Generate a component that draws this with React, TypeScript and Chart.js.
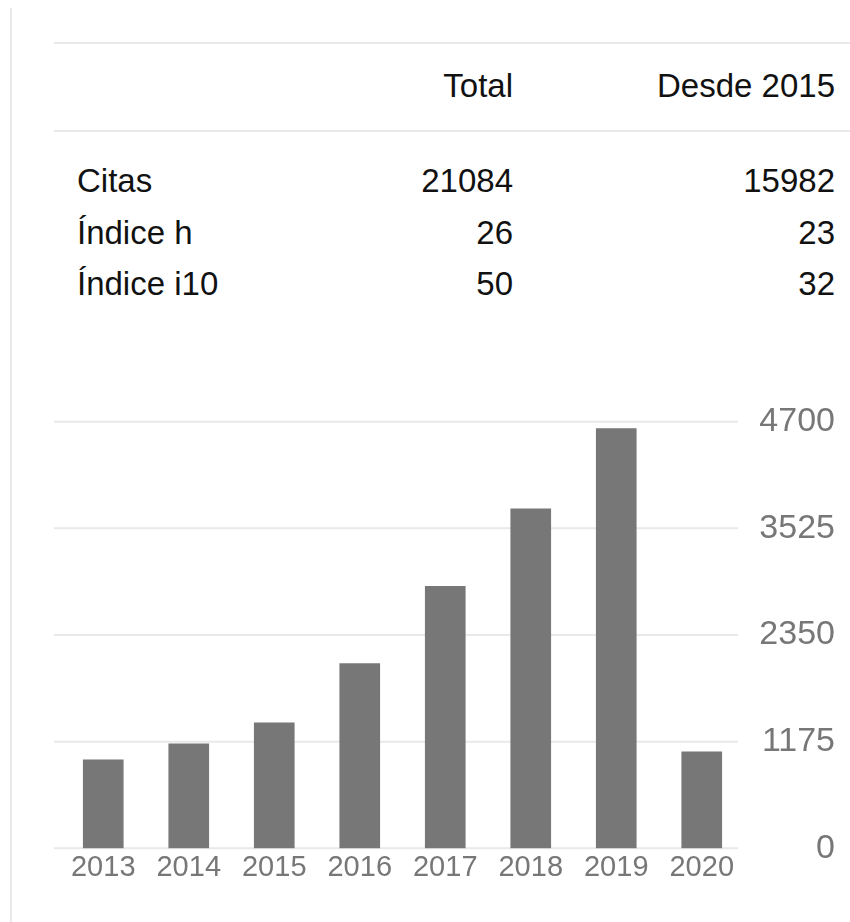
import React, { useEffect, useRef } from "react";
import { Chart, registerables } from "chart.js";

Chart.register(...registerables);

const years = ["2013", "2014", "2015", "2016", "2017", "2018", "2019", "2020"];
const citations = [975, 1152, 1383, 2034, 2887, 3740, 4623, 1063];
const yTicks = [0, 1175, 2350, 3525, 4700];

const headers = ["Total", "Desde 2015"];
const rowLabels = ["Citas", "Índice h", "Índice i10"];
const totalValues = ["21084", "26", "50"];
const sinceValues = ["15982", "23", "32"];

const FONT = "'Liberation Sans', Arial, Helvetica, sans-serif";
const LINE = "#e9e9e9";

const gridPlugin = {
  id: "shiftedGrid",
  beforeDatasetsDraw(chart: any) {
    const { ctx, chartArea, scales } = chart;
    const y = scales.y;
    ctx.save();
    ctx.strokeStyle = LINE;
    ctx.lineWidth = 2;
    y.ticks.forEach((t: any) => {
      const py = y.getPixelForValue(t.value);
      ctx.beginPath();
      ctx.moveTo(chartArea.left - 6.5, py);
      ctx.lineTo(chartArea.right - 6.5, py);
      ctx.stroke();
    });
    ctx.restore();
  },
};

function CitationChart() {
  const ref = useRef<HTMLCanvasElement>(null);
  useEffect(() => {
    if (!ref.current) return;
    const chart = new Chart(ref.current, {
      type: "bar",
      data: {
        labels: years,
        datasets: [
          {
            data: citations,
            backgroundColor: "#777777",
            borderWidth: 0,
            barThickness: 40,
          },
        ],
      },
      options: {
        responsive: false,
        animation: false,
        layout: { padding: { left: 60.5, right: 15, top: 41.7, bottom: 33.7 } },
        plugins: { legend: { display: false }, tooltip: { enabled: false } },
        scales: {
          x: {
            grid: { display: false },
            border: { display: false },
            ticks: {
              color: "#777777",
              font: { family: FONT, size: 29 },
              padding: -6,
              maxRotation: 0,
              autoSkip: false,
            },
            afterFit: (s: any) => {
              s.height = 40;
            },
          },
          y: {
            position: "right",
            min: 0,
            max: 4700,
            grid: { display: false },
            border: { display: false },
            afterBuildTicks: (s: any) => {
              s.ticks = yTicks.map((v) => ({ value: v }));
            },
            ticks: {
              color: "#777777",
              font: { family: FONT, size: 34 },
              padding: 15,
              crossAlign: "far",
              callback: (v: any) => String(v),
            },
            afterFit: (s: any) => {
              s.width = 90.5;
            },
          },
        },
      },
      plugins: [gridPlugin],
    } as any);
    return () => chart.destroy();
  }, []);
  return (
    <canvas
      ref={ref}
      width={850}
      height={542}
      style={{ position: "absolute", left: 0, top: 380, width: 850, height: 542 }}
    />
  );
}

export default function App() {
  const textStyle: React.CSSProperties = {
    position: "absolute",
    fontFamily: FONT,
    fontSize: 33,
    lineHeight: "33px",
    color: "#111111",
    whiteSpace: "nowrap",
  };
  const rowTops = [164, 215.7, 267.4];
  return (
    <div
      style={{
        position: "absolute",
        left: 0,
        top: 0,
        width: 850,
        height: 922,
        background: "#ffffff",
        overflow: "hidden",
      }}
    >
      <div style={{ position: "absolute", left: 10, top: 8, width: 2, height: 914, background: LINE }} />
      <div style={{ position: "absolute", left: 54, top: 42, width: 796, height: 2, background: LINE }} />
      <div style={{ position: "absolute", left: 54, top: 130, width: 796, height: 2, background: LINE }} />
      <div style={{ ...textStyle, top: 68.7, left: 0, width: 513, textAlign: "right" }}>{headers[0]}</div>
      <div style={{ ...textStyle, top: 68.7, left: 0, width: 835, textAlign: "right" }}>{headers[1]}</div>
      {rowLabels.map((label, i) => (
        <React.Fragment key={label}>
          <div style={{ ...textStyle, top: rowTops[i], left: 77 }}>{label}</div>
          <div style={{ ...textStyle, top: rowTops[i], left: 0, width: 513, textAlign: "right" }}>
            {totalValues[i]}
          </div>
          <div style={{ ...textStyle, top: rowTops[i], left: 0, width: 835, textAlign: "right" }}>
            {sinceValues[i]}
          </div>
        </React.Fragment>
      ))}
      <CitationChart />
    </div>
  );
}
